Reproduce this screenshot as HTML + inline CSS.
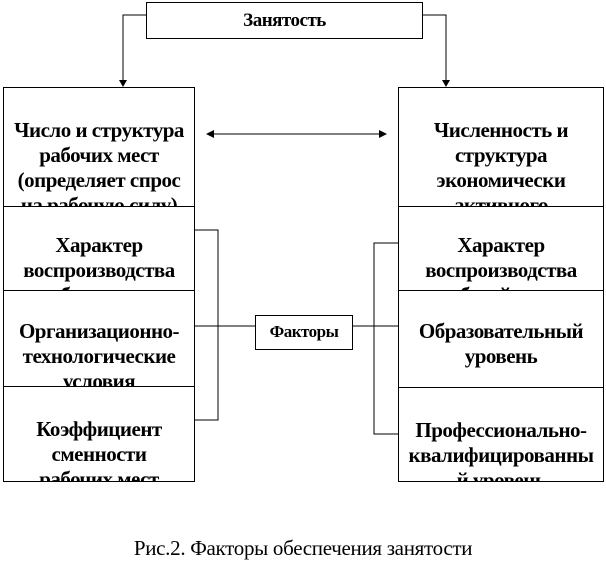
<!DOCTYPE html>
<html><head><meta charset="utf-8"><style>
body{margin:0;width:606px;height:569px;background:#fff;position:relative;overflow:hidden;font-family:"Liberation Serif",serif;}
.b{position:absolute;border:1px solid #000;box-sizing:border-box;overflow:hidden;text-align:center;font-weight:bold;font-size:21px;line-height:25px;color:#000;letter-spacing:-0.5px;white-space:nowrap;}
svg{position:absolute;left:0;top:0;}
</style></head><body>
<svg width="606" height="569">
<g stroke="#000" stroke-width="1" fill="none">
<polyline points="146,15 123,15 123,80"/>
<polyline points="422,15 446,15 446,80"/>
<line x1="212" y1="134" x2="381" y2="134"/>
<polyline points="194,230 218,230 218,420 194,420"/>
<line x1="194" y1="326" x2="255" y2="326"/>
<polyline points="398,243 374,243 374,434 398,434"/>
<line x1="352" y1="326" x2="398" y2="326"/>
</g>
<g fill="#000">
<polygon points="119,80 127,80 123,87"/>
<polygon points="442,80 450,80 446,87"/>
<polygon points="206,134 214,130 214,138"/>
<polygon points="387,134 379,130 379,138"/>
</g>
</svg>
<div class="b" style="left:146px;top:2px;width:277px;height:37px;line-height:35px;font-size:19px">Занятость</div>
<div class="b" style="left:3px;top:87px;width:192px;height:120px;padding-top:30px">Число и структура<br>рабочих мест<br>(определяет спрос<br>на рабочую силу)</div>
<div class="b" style="left:3px;top:206px;width:192px;height:85px;padding-top:26px">Характер<br>воспроизводства<br>рабочих мест</div>
<div class="b" style="left:3px;top:290px;width:192px;height:97px;padding-top:28px">Организационно-<br>технологические<br>условия</div>
<div class="b" style="left:3px;top:386px;width:192px;height:96px;padding-top:30px">Коэффициент<br>сменности<br>рабочих мест</div>
<div class="b" style="left:398px;top:87px;width:206px;height:120px;padding-top:30px">Численность и<br>структура<br>экономически<br>активного</div>
<div class="b" style="left:398px;top:206px;width:206px;height:85px;padding-top:26px">Характер<br>воспроизводства<br>рабочей силы</div>
<div class="b" style="left:398px;top:290px;width:206px;height:98px;padding-top:28px">Образовательный<br>уровень</div>
<div class="b" style="left:398px;top:387px;width:206px;height:95px;padding-top:30px">Профессионально-<br>квалифицированны<br>й уровень</div>
<div class="b" style="left:255px;top:315px;width:98px;height:35px;line-height:32px;font-size:17px">Факторы</div>
<div style="position:absolute;left:0;width:606px;top:536px;text-align:center;font-size:21px;line-height:24px;letter-spacing:-0.3px">Рис.2. Факторы обеспечения занятости</div>
</body></html>
